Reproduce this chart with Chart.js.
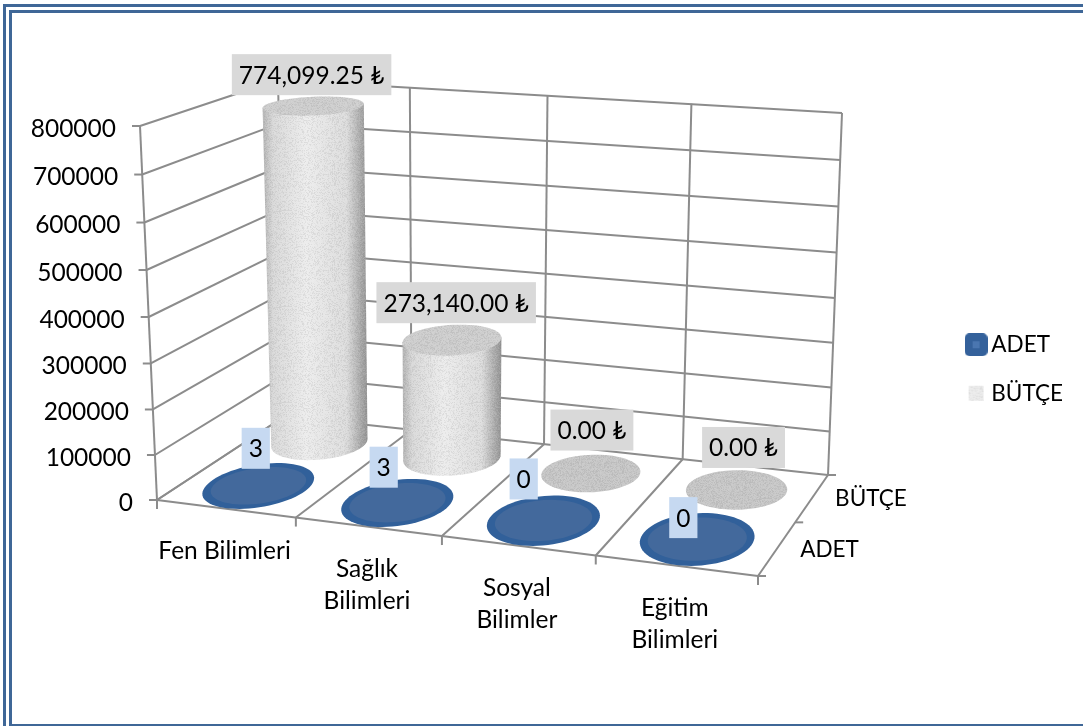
<!DOCTYPE html>
<html>
<head>
<meta charset="utf-8">
<title>Bilim alanları</title>
<script src="https://cdn.jsdelivr.net/npm/chart.js@4"></script>
<style>
    html, body { margin: 0; padding: 0; background: #fff; overflow: hidden; }
    #page { position: relative; width: 1083px; height: 726px; overflow: hidden; }
    #page canvas { position: absolute; left: 0; top: 0; }
    .frame { position: absolute; border: 3px solid #3f6797; box-sizing: border-box; }
    #outer { left: 3px; top: 4px; width: 1200px; height: 800px; }
    #inner { left: 9px; top: 10px; width: 1200px; height: 717px; }
</style>
</head>
<body>
<div id="page">
    <div class="frame" id="outer"></div>
    <div class="frame" id="inner"></div>
    <canvas id="chart" width="1083" height="726"></canvas>
</div>
<script>
const categories = [['Fen Bilimleri'], ['Sağlık', 'Bilimleri'], ['Sosyal', 'Bilimler'], ['Eğitim', 'Bilimleri']];
const seriesNames = ['ADET', 'BÜTÇE'];
const adetValues = [3, 3, 0, 0];
const butceValues = [774099.25, 273140, 0, 0];
const valueTicks = [0, 100000, 200000, 300000, 400000, 500000, 600000, 700000, 800000];

// Where the 3D box lands on the page (floor corners, and the wall height at each of them)
const floorFrontLeft = [157, 500];
const floorFrontRight = [758, 576];
const floorBackLeft = [285, 416];
const floorBackRight = [828, 475];
const riseFrontLeft = [-17, -374];
const riseFrontRight = [24, -395];
const riseBackLeft = [-7, -336];
const riseBackRight = [14, -362];
const risePerspective = 0.042;

// Label boxes sit by hand in the original, offsets from the top of each mark
const adetLabelOffsets = [[-3, -37], [-14, -35], [-20, -41], [-14, -21]];
const butceLabelOffsets = [[-2, -31], [4, -37], [1, -43], [7, -42]];

const FAMILY = 'Lato, Carlito, sans-serif';
const FONT = '24.5px ' + FAMILY;
const CAPS_FONT = '22.5px ' + FAMILY;
const GRID = '#8c8c8c';

// square to quad mapping for the floor
function makeFloor(p00, p10, p11, p01) {
    const dx1 = p10[0] - p11[0], dx2 = p01[0] - p11[0], sx = p00[0] - p10[0] + p11[0] - p01[0];
    const dy1 = p10[1] - p11[1], dy2 = p01[1] - p11[1], sy = p00[1] - p10[1] + p11[1] - p01[1];
    const det = dx1 * dy2 - dx2 * dy1;
    const g = (sx * dy2 - dx2 * sy) / det;
    const h = (dx1 * sy - sx * dy1) / det;
    const a = p10[0] - p00[0] + g * p10[0], b = p01[0] - p00[0] + h * p01[0], c = p00[0];
    const d = p10[1] - p00[1] + g * p10[1], e = p01[1] - p00[1] + h * p01[1], f = p00[1];
    return (u, v) => {
        const w = g * u + h * v + 1;
        return [(a * u + b * v + c) / w, (d * u + e * v + f) / w];
    };
}
const floorAt = makeFloor(floorFrontLeft, floorFrontRight, floorBackRight, floorBackLeft);

function project(u, v, h) {
    const base = floorAt(u, v);
    const rise = [0, 1].map(k =>
        (1 - v) * ((1 - u) * riseFrontLeft[k] + u * riseFrontRight[k]) +
        v * ((1 - u) * riseBackLeft[k] + u * riseBackRight[k]));
    const lift = h * (1 - risePerspective) / (1 - risePerspective * h);
    return [base[0] + rise[0] * lift, base[1] + rise[1] * lift];
}

// fixed speckle tile for the grey material
function makeSpeckle(alpha) {
    const tile = document.createElement('canvas');
    tile.width = tile.height = 96;
    const c = tile.getContext('2d');
    let seed = 4711;
    for (let y = 0; y < 96; y++) {
        for (let x = 0; x < 96; x++) {
            seed = (seed * 16807) % 2147483647;
            const shade = seed % 2 ? 255 : 90;
            c.fillStyle = `rgba(${shade},${shade},${shade},${alpha * ((seed >> 3) % 5) / 4})`;
            c.fillRect(x, y, 1, 1);
        }
    }
    return tile;
}
const speckleTile = makeSpeckle(0.11);

function legendIcon(kind) {
    const icon = document.createElement('canvas');
    icon.width = icon.height = 23;
    const c = icon.getContext('2d');
    if (kind === 'ADET') {
        c.fillStyle = '#34619b';
        c.beginPath();
        c.roundRect(0, 0, 23, 23, 5);
        c.fill();
        c.fillStyle = '#4a76b0';
        c.fillRect(8, 8, 7, 7);
    } else {
        c.fillStyle = '#ececec';
        c.fillRect(4, 4, 15, 15);
        c.fillStyle = c.createPattern(speckleTile, 'repeat');
        c.fillRect(4, 4, 15, 15);
    }
    return icon;
}

function line(ctx, a, b) {
    ctx.beginPath();
    ctx.moveTo(a[0], a[1]);
    ctx.lineTo(b[0], b[1]);
    ctx.stroke();
}

function ellipsePoints(u, v, ru, rv, h) {
    const pts = [];
    for (let i = 0; i < 72; i++) {
        const t = i / 72 * Math.PI * 2;
        pts.push(project(u + ru * Math.cos(t), v + rv * Math.sin(t), h));
    }
    return pts;
}

function tracePoly(ctx, pts) {
    ctx.beginPath();
    pts.forEach((p, i) => i ? ctx.lineTo(p[0], p[1]) : ctx.moveTo(p[0], p[1]));
    ctx.closePath();
}

function fillGrey(ctx, pts, style) {
    tracePoly(ctx, pts);
    ctx.fillStyle = style;
    ctx.fill();
    ctx.fillStyle = ctx.createPattern(speckleTile, 'repeat');
    ctx.fill();
}

function drawCylinder(ctx, u, v, h) {
    const ru = 0.081, rv = 0.205;
    const bottom = ellipsePoints(u, v, ru, rv, 0);
    const top = ellipsePoints(u, v, ru, rv, h);
    if (h < 0.005) {
        fillGrey(ctx, top, '#c6c6c6');
        return;
    }
    const side = pts => {
        const xs = pts.map(p => p[0]);
        return [pts[xs.indexOf(Math.min(...xs))], pts[xs.indexOf(Math.max(...xs))]];
    };
    const [bl, br] = side(bottom);
    const [tl, tr] = side(top);
    // body: the two silhouette edges plus the lower half of the base
    const lower = bottom.filter(p => p[1] >= (bl[1] + (br[1] - bl[1]) * (p[0] - bl[0]) / (br[0] - bl[0])));
    lower.sort((a, b) => b[0] - a[0]);
    const body = [tl, tr, br, ...lower, bl];
    const shade = ctx.createLinearGradient(Math.min(tl[0], bl[0]), 0, Math.max(tr[0], br[0]), 0);
    shade.addColorStop(0, '#b4b4b4');
    shade.addColorStop(0.1, '#d8d8d8');
    shade.addColorStop(0.42, '#ececec');
    shade.addColorStop(0.8, '#dcdcdc');
    shade.addColorStop(1, '#929292');
    fillGrey(ctx, body, shade);
    fillGrey(ctx, top, '#cdcdcd');
}

function drawDisc(ctx, u, v, h) {
    tracePoly(ctx, ellipsePoints(u, v, 0.085, 0.245, h));
    ctx.fillStyle = '#31609a';
    ctx.fill();
    tracePoly(ctx, ellipsePoints(u, v, 0.074, 0.2, h));
    ctx.fillStyle = '#43699c';
    ctx.fill();
}

function drawLabelBox(ctx, text, x, y, fill) {
    ctx.font = FONT;
    const w = ctx.measureText(text).width + 14;
    ctx.fillStyle = fill;
    ctx.fillRect(x - w / 2, y - 20.5, w, 41);
    ctx.fillStyle = '#000';
    ctx.textAlign = 'center';
    ctx.textBaseline = 'middle';
    ctx.fillText(text, x, y + 1);
}

const cylinders3d = {
    id: 'cylinders3d',
    afterDatasetsDraw(chart) {
        const ctx = chart.ctx;
        const { x: xs, y: ys, z: zs } = chart.scales;
        const uOf = i => (xs.getPixelForValue(i) - xs.left) / xs.width;
        const vOf = i => (zs.getPixelForValue(i) - zs.left) / zs.width;
        const hOf = val => (ys.bottom - ys.getPixelForValue(val)) / ys.height;
        const edges = categories.map((c, i) => i / categories.length).concat(1);

        ctx.save();
        ctx.strokeStyle = GRID;
        ctx.lineWidth = 2;

        // walls and floor
        ys.ticks.forEach(t => {
            const h = hOf(t.value);
            line(ctx, project(0, 0, h), project(0, 1, h));
            line(ctx, project(0, 1, h), project(1, 1, h));
            const p = project(0, 0, h);
            line(ctx, p, [p[0] - 8, p[1]]);
        });
        line(ctx, project(0, 0, 0), project(0, 0, 1));
        edges.forEach(u => {
            line(ctx, project(u, 1, 0), project(u, 1, 1));
            line(ctx, project(u, 0, 0), project(u, 1, 0));
            const p = project(u, 0, 0);
            line(ctx, p, [p[0], p[1] + 9]);
        });
        line(ctx, project(0, 0, 0), project(1, 0, 0));
        [0, 0.5, 1].forEach(v => {
            const p = project(1, v, 0);
            line(ctx, p, [p[0] + 8, p[1]]);
        });

        // axis text
        ctx.fillStyle = '#000';
        ctx.font = FONT;
        ctx.textAlign = 'right';
        ctx.textBaseline = 'middle';
        ys.ticks.forEach(t => {
            const p = project(0, 0, hOf(t.value));
            ctx.fillText(String(t.value), p[0] - 24, p[1] + 3);
        });
        ctx.textAlign = 'center';
        ctx.textBaseline = 'alphabetic';
        categories.forEach((lines, i) => {
            const p = project(uOf(i), 0, 0);
            lines.forEach((txt, k) => ctx.fillText(txt, p[0] - 1, p[1] + 50 + k * 32));
        });
        ctx.font = CAPS_FONT;
        ctx.textAlign = 'left';
        ctx.textBaseline = 'middle';
        zs.getLabels().forEach((txt, i) => {
            const p = project(1, vOf(i), 0);
            ctx.fillText(txt, p[0] + 23, p[1] + 1);
        });

        // back series first, then front series, labels on top of everything
        const butce = chart.data.datasets[1].data;
        const adet = chart.data.datasets[0].data;
        butce.forEach((val, i) => drawCylinder(ctx, uOf(i), vOf(1), hOf(val)));
        adet.forEach((val, i) => drawDisc(ctx, uOf(i), vOf(0), hOf(val)));
        butce.forEach((val, i) => {
            const p = project(uOf(i), vOf(1), hOf(val));
            const txt = val.toLocaleString('en-US', { minimumFractionDigits: 2, maximumFractionDigits: 2 }) + ' ₺';
            drawLabelBox(ctx, txt, p[0] + butceLabelOffsets[i][0], p[1] + butceLabelOffsets[i][1], '#d9d9d9');
        });
        adet.forEach((val, i) => {
            const p = project(uOf(i), vOf(0), hOf(val));
            drawLabelBox(ctx, String(val), p[0] + adetLabelOffsets[i][0], p[1] + adetLabelOffsets[i][1], '#c6d9f1');
        });
        ctx.restore();
    }
};

new Chart(document.getElementById('chart'), {
    type: 'bar',
    data: {
        labels: categories,
        datasets: [
            { label: seriesNames[0], data: adetValues, backgroundColor: 'rgba(0,0,0,0)' },
            { label: seriesNames[1], data: butceValues, backgroundColor: 'rgba(0,0,0,0)' }
        ]
    },
    plugins: [cylinders3d],
    options: {
        responsive: false,
        animation: false,
        layout: { padding: { top: 12, right: 10, bottom: 0, left: 0 } },
        scales: {
            x: { display: false, grid: { display: false } },
            z: { axis: 'x', type: 'category', labels: seriesNames, display: false, offset: true, grid: { display: false } },
            y: {
                display: false,
                min: valueTicks[0],
                max: valueTicks[valueTicks.length - 1],
                ticks: { stepSize: valueTicks[1] - valueTicks[0] },
                grid: { display: false }
            }
        },
        plugins: {
            tooltip: { enabled: false },
            legend: {
                position: 'right',
                labels: {
                    usePointStyle: true,
                    boxWidth: 8,
                    padding: 26,
                    color: '#000',
                    font: { family: FAMILY, size: 22.5 },
                    generateLabels: chart => chart.data.datasets.map((ds, i) => ({
                        text: ds.label,
                        fillStyle: '#fff',
                        strokeStyle: '#fff',
                        lineWidth: 0,
                        datasetIndex: i,
                        pointStyle: legendIcon(ds.label)
                    }))
                }
            }
        }
    }
});
</script>
</body>
</html>
